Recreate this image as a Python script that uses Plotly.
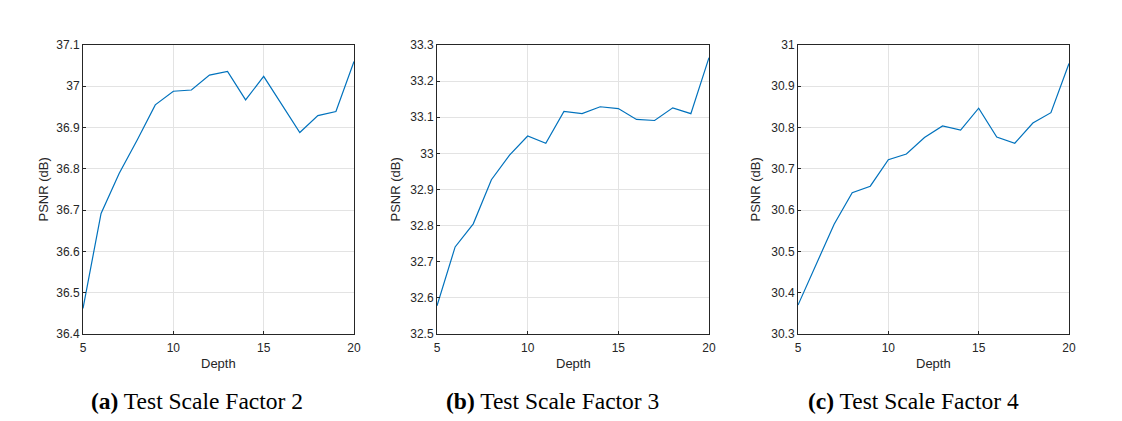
import plotly.graph_objects as go

depth = list(range(5, 21))
psnr_x2 = [36.462, 36.692, 36.789, 36.870, 36.955, 36.988, 36.991, 37.027, 37.036,
           36.967, 37.024, 36.956, 36.888, 36.929, 36.939, 37.060]
psnr_x3 = [32.578, 32.741, 32.805, 32.927, 32.995, 33.048, 33.028, 33.116, 33.110,
           33.129, 33.124, 33.094, 33.091, 33.126, 33.110, 33.265]
psnr_x4 = [30.370, 30.468, 30.566, 30.642, 30.658, 30.722, 30.736, 30.776, 30.804,
           30.794, 30.847, 30.777, 30.762, 30.811, 30.836, 30.955]

series = [psnr_x2, psnr_x3, psnr_x4]
y_ranges = [[36.4, 37.1], [32.5, 33.3], [30.3, 31.0]]
y_ticks = [
    [36.4, 36.5, 36.6, 36.7, 36.8, 36.9, 37.0, 37.1],
    [32.5, 32.6, 32.7, 32.8, 32.9, 33.0, 33.1, 33.2, 33.3],
    [30.3, 30.4, 30.5, 30.6, 30.7, 30.8, 30.9, 31.0],
]
x_ticks = [5, 10, 15, 20]
captions = [("(a)", "Test Scale Factor 2"), ("(b)", "Test Scale Factor 3"), ("(c)", "Test Scale Factor 4")]

W, H = 1122, 421
OFF = 8  # page body margin
panels_px = [(83, 354), (437, 709), (798, 1069)]
top_px, bot_px = 45, 334
ytitle_px = [43, 395, 755]
caption_cx = [197, 552, 913]


def px_x(v):
    return (v - OFF) / W


def px_y(v):
    return 1 - (v - OFF) / H


fig = go.Figure()
axcol = "#262626"
font_sans = "Liberation Sans, Arial, Helvetica, sans-serif"

for i, ys in enumerate(series):
    n = "" if i == 0 else str(i + 1)
    fig.add_trace(go.Scatter(x=depth, y=ys, mode="lines",
                             line=dict(color="#0072BD", width=1.2),
                             xaxis="x" + n, yaxis="y" + n, showlegend=False))
    x0, x1 = panels_px[i]
    common = dict(showline=True, linecolor=axcol, linewidth=1, mirror=True,
                  ticks="inside", ticklen=3, tickcolor=axcol, automargin=False,
                  showgrid=True, gridcolor="#e3e3e3", gridwidth=1,
                  zeroline=False, tickfont=dict(family=font_sans, size=12, color=axcol))
    fig.update_layout(**{
        "xaxis" + n: dict(domain=[px_x(x0), px_x(x1)], range=[5, 20], tickvals=x_ticks,
                          anchor="y" + n, ticklabelstandoff=3, **common),
        "yaxis" + n: dict(domain=[px_y(bot_px), px_y(top_px)], range=y_ranges[i],
                          tickvals=y_ticks[i],
                          ticktext=[("%g" % v) for v in y_ticks[i]],
                          anchor="x" + n, **common),
    })
    fig.add_annotation(x=px_x(ytitle_px[i]), y=px_y((top_px + bot_px) / 2), xref="paper", yref="paper",
                       text="PSNR (dB)", textangle=-90, showarrow=False,
                       xanchor="center", yanchor="middle",
                       font=dict(family=font_sans, size=13, color=axcol))
    fig.add_annotation(x=px_x((x0 + x1) / 2), y=px_y(363), xref="paper", yref="paper",
                       text="Depth", showarrow=False, xanchor="center", yanchor="middle",
                       font=dict(family=font_sans, size=13, color=axcol))
    lab, txt = captions[i]
    fig.add_annotation(x=px_x(caption_cx[i]), y=px_y(400.5), xref="paper", yref="paper",
                       text="<b>%s</b> %s" % (lab, txt), showarrow=False,
                       xanchor="center", yanchor="middle",
                       font=dict(family="Liberation Serif, Times New Roman, serif", size=23.5, color="black"))

fig.update_layout(width=W, height=H, margin=dict(l=0, r=0, t=0, b=0),
                  paper_bgcolor="white", plot_bgcolor="white")
fig.write_html("out.html")
